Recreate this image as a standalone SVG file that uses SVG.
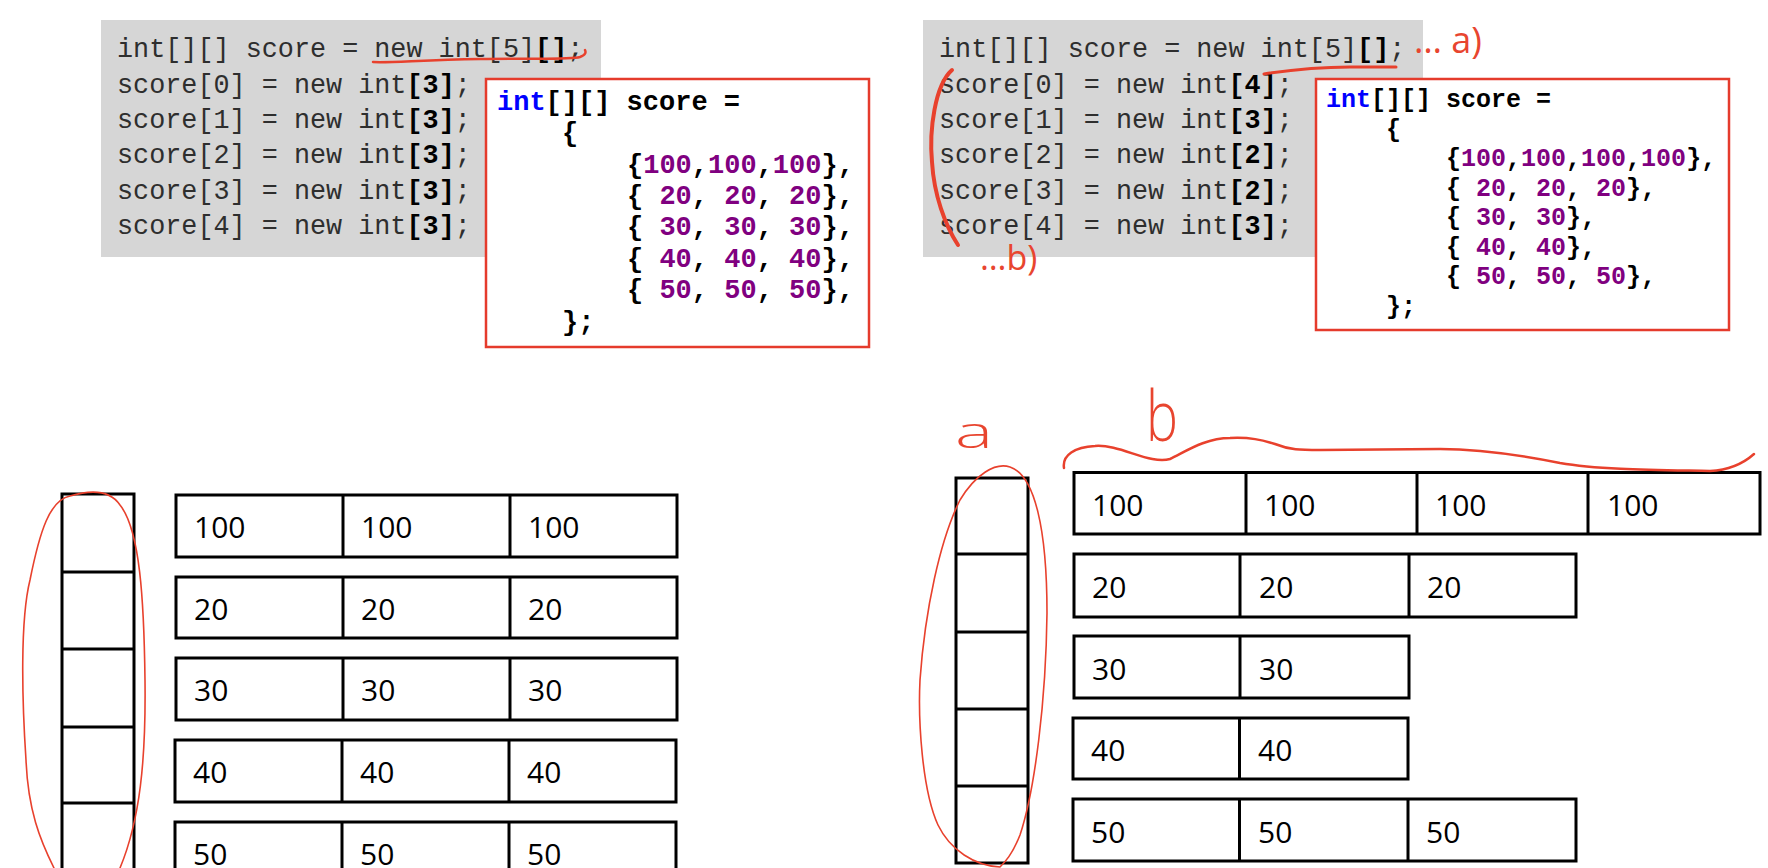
<svg xmlns="http://www.w3.org/2000/svg" width="1768" height="868" viewBox="0 0 1768 868">
<style>
.bg{fill:#ffffff}
.gray{fill:#d6d6d6}
.code{font-family:"Liberation Mono","Courier New",monospace;font-size:26.8px;fill:#2e2e2e}
.b{font-weight:bold;fill:#000}
.box{fill:#ffffff;stroke:#e53b2c;stroke-width:2.5}
.lit{font-family:"Liberation Mono","Courier New",monospace;font-weight:bold;fill:#000}
.l27{font-size:27px}
.l25{font-size:25px}
.kw{fill:#0000ff}
.num{fill:#800080}
.cell{fill:#ffffff;stroke:#000;stroke-width:3}
.div{stroke:#000;stroke-width:3}
.val{font-family:"Open Sans","Liberation Sans",sans-serif;font-size:30px;fill:#000}
.ink{fill:none;stroke:#e8412d;stroke-linecap:round;stroke-linejoin:round}
.note{font-family:"Open Sans","Liberation Sans",sans-serif;fill:#e8452f}
</style>
<rect class="bg" x="0" y="0" width="1768" height="868"/>

<!-- LEFT: code block -->
<g id="code-left">
<rect class="gray" x="101" y="20" width="500" height="237"/>
<text class="code" x="117" y="57" xml:space="preserve">int[][] score = new int[5]<tspan class="b">[]</tspan>;</text>
<text class="code" x="117" y="92.5" xml:space="preserve">score[0] = new int<tspan class="b">[3]</tspan>;</text>
<text class="code" x="117" y="128" xml:space="preserve">score[1] = new int<tspan class="b">[3]</tspan>;</text>
<text class="code" x="117" y="163.3" xml:space="preserve">score[2] = new int<tspan class="b">[3]</tspan>;</text>
<text class="code" x="117" y="198.6" xml:space="preserve">score[3] = new int<tspan class="b">[3]</tspan>;</text>
<text class="code" x="117" y="234" xml:space="preserve">score[4] = new int<tspan class="b">[3]</tspan>;</text>
</g>

<g id="literal-left">
<rect class="box" x="486" y="79" width="383" height="268"/>
<text class="lit l27" x="497" y="109.5" xml:space="preserve"><tspan class="kw">int</tspan>[][] score =</text>
<text class="lit l27" x="562" y="141">{</text>
<text class="lit l27" x="627" y="172.5" xml:space="preserve">{<tspan class="num">100</tspan>,<tspan class="num">100</tspan>,<tspan class="num">100</tspan>},</text>
<text class="lit l27" x="627" y="204" xml:space="preserve">{ <tspan class="num">20</tspan>, <tspan class="num">20</tspan>, <tspan class="num">20</tspan>},</text>
<text class="lit l27" x="627" y="235.3" xml:space="preserve">{ <tspan class="num">30</tspan>, <tspan class="num">30</tspan>, <tspan class="num">30</tspan>},</text>
<text class="lit l27" x="627" y="266.7" xml:space="preserve">{ <tspan class="num">40</tspan>, <tspan class="num">40</tspan>, <tspan class="num">40</tspan>},</text>
<text class="lit l27" x="627" y="298" xml:space="preserve">{ <tspan class="num">50</tspan>, <tspan class="num">50</tspan>, <tspan class="num">50</tspan>},</text>
<text class="lit l27" x="562" y="329.5">};</text>
</g>

<!-- RIGHT: code block -->
<g id="code-right">
<rect class="gray" x="923" y="20" width="500" height="237"/>
<text class="code" x="939" y="57" xml:space="preserve">int[][] score = new int[5]<tspan class="b">[]</tspan>;</text>
<text class="code" x="939" y="92.5" xml:space="preserve">score[0] = new int<tspan class="b">[4]</tspan>;</text>
<text class="code" x="939" y="128" xml:space="preserve">score[1] = new int<tspan class="b">[3]</tspan>;</text>
<text class="code" x="939" y="163.3" xml:space="preserve">score[2] = new int<tspan class="b">[2]</tspan>;</text>
<text class="code" x="939" y="198.6" xml:space="preserve">score[3] = new int<tspan class="b">[2]</tspan>;</text>
<text class="code" x="939" y="234" xml:space="preserve">score[4] = new int<tspan class="b">[3]</tspan>;</text>
</g>

<g id="literal-right">
<rect class="box" x="1316" y="79" width="413" height="251"/>
<text class="lit l25" x="1326" y="107" xml:space="preserve"><tspan class="kw">int</tspan>[][] score =</text>
<text class="lit l25" x="1386" y="136.5">{</text>
<text class="lit l25" x="1446" y="166" xml:space="preserve">{<tspan class="num">100</tspan>,<tspan class="num">100</tspan>,<tspan class="num">100</tspan>,<tspan class="num">100</tspan>},</text>
<text class="lit l25" x="1446" y="195.5" xml:space="preserve">{ <tspan class="num">20</tspan>, <tspan class="num">20</tspan>, <tspan class="num">20</tspan>},</text>
<text class="lit l25" x="1446" y="225" xml:space="preserve">{ <tspan class="num">30</tspan>, <tspan class="num">30</tspan>},</text>
<text class="lit l25" x="1446" y="254.5" xml:space="preserve">{ <tspan class="num">40</tspan>, <tspan class="num">40</tspan>},</text>
<text class="lit l25" x="1446" y="284" xml:space="preserve">{ <tspan class="num">50</tspan>, <tspan class="num">50</tspan>, <tspan class="num">50</tspan>},</text>
<text class="lit l25" x="1386" y="313.5">};</text>
</g>

<!-- LEFT: memory diagram -->
<g id="array-left">
<rect class="cell" x="62" y="494" width="72" height="400"/>
<line class="div" x1="62" y1="572" x2="134" y2="572"/>
<line class="div" x1="62" y1="649" x2="134" y2="649"/>
<line class="div" x1="62" y1="727" x2="134" y2="727"/>
<line class="div" x1="62" y1="803" x2="134" y2="803"/>
</g>
<g id="row-left-0">
<rect class="cell" x="176" y="495" width="501" height="62"/>
<line class="div" x1="343" y1="495" x2="343" y2="557"/><line class="div" x1="510" y1="495" x2="510" y2="557"/>
<text class="val" x="194" y="538">100</text><text class="val" x="361" y="538">100</text><text class="val" x="528" y="538">100</text>
</g>
<g id="row-left-1">
<rect class="cell" x="176" y="577" width="501" height="61"/>
<line class="div" x1="343" y1="577" x2="343" y2="638"/><line class="div" x1="510" y1="577" x2="510" y2="638"/>
<text class="val" x="194" y="620">20</text><text class="val" x="361" y="620">20</text><text class="val" x="528" y="620">20</text>
</g>
<g id="row-left-2">
<rect class="cell" x="176" y="658" width="501" height="62"/>
<line class="div" x1="343" y1="658" x2="343" y2="720"/><line class="div" x1="510" y1="658" x2="510" y2="720"/>
<text class="val" x="194" y="701">30</text><text class="val" x="361" y="701">30</text><text class="val" x="528" y="701">30</text>
</g>
<g id="row-left-3">
<rect class="cell" x="175" y="740" width="501" height="62"/>
<line class="div" x1="342" y1="740" x2="342" y2="802"/><line class="div" x1="509" y1="740" x2="509" y2="802"/>
<text class="val" x="193" y="783">40</text><text class="val" x="360" y="783">40</text><text class="val" x="527" y="783">40</text>
</g>
<g id="row-left-4">
<rect class="cell" x="175" y="822" width="501" height="62"/>
<line class="div" x1="342" y1="822" x2="342" y2="884"/><line class="div" x1="509" y1="822" x2="509" y2="884"/>
<text class="val" x="193" y="865">50</text><text class="val" x="360" y="865">50</text><text class="val" x="527" y="865">50</text>
</g>

<!-- RIGHT: memory diagram -->
<g id="array-right">
<rect class="cell" x="956" y="478" width="72" height="385"/>
<line class="div" x1="956" y1="554" x2="1028" y2="554"/>
<line class="div" x1="956" y1="632" x2="1028" y2="632"/>
<line class="div" x1="956" y1="709" x2="1028" y2="709"/>
<line class="div" x1="956" y1="786" x2="1028" y2="786"/>
</g>
<g id="row-right-0">
<rect class="cell" x="1074" y="472.5" width="686" height="61.5"/>
<line class="div" x1="1246" y1="472.5" x2="1246" y2="534"/><line class="div" x1="1417" y1="472.5" x2="1417" y2="534"/><line class="div" x1="1588" y1="472.5" x2="1588" y2="534"/>
<text class="val" x="1092" y="516">100</text><text class="val" x="1264" y="516">100</text><text class="val" x="1435" y="516">100</text><text class="val" x="1607" y="516">100</text>
</g>
<g id="row-right-1">
<rect class="cell" x="1074" y="554" width="502" height="63"/>
<line class="div" x1="1240" y1="554" x2="1240" y2="617"/><line class="div" x1="1409" y1="554" x2="1409" y2="617"/>
<text class="val" x="1092" y="598">20</text><text class="val" x="1259" y="598">20</text><text class="val" x="1427" y="598">20</text>
</g>
<g id="row-right-2">
<rect class="cell" x="1074" y="636" width="335" height="62"/>
<line class="div" x1="1240" y1="636" x2="1240" y2="698"/>
<text class="val" x="1092" y="680">30</text><text class="val" x="1259" y="680">30</text>
</g>
<g id="row-right-3">
<rect class="cell" x="1073" y="718" width="335" height="61"/>
<line class="div" x1="1239.5" y1="718" x2="1239.5" y2="779"/>
<text class="val" x="1091" y="761">40</text><text class="val" x="1258" y="761">40</text>
</g>
<g id="row-right-4">
<rect class="cell" x="1073" y="799" width="503" height="62"/>
<line class="div" x1="1239.5" y1="799" x2="1239.5" y2="861"/><line class="div" x1="1408" y1="799" x2="1408" y2="861"/>
<text class="val" x="1091" y="843">50</text><text class="val" x="1258" y="843">50</text><text class="val" x="1426" y="843">50</text>
</g>

<!-- red hand annotations -->
<g id="annotations">
<path class="ink" stroke-width="2.5" d="M 373 62 C 390 63, 420 60, 480 59 C 530 58, 570 60, 580 57 C 586 55, 586 52, 585 50"/>
<path class="ink" stroke-width="3" d="M 1264 74 C 1290 70, 1320 67, 1350 67 L 1396 67"/>
<path class="ink" stroke-width="4" d="M 952 70 C 935 85, 929 130, 932 162 C 934 195, 945 225, 958 245"/>
<text class="note" x="1414" y="53" font-size="36" xml:space="preserve">… a)</text>
<text class="note" x="980" y="270" font-size="34">…b)</text>
<path class="ink" stroke-width="1.6" d="M 54 868 C 40 840, 28 810, 26 760 C 22 700, 20 620, 30 580 C 40 530, 50 500, 70 496 C 90 490, 110 490, 120 505 C 140 530, 144 600, 145 680 C 146 760, 140 820, 120 868"/>
<path class="ink" stroke-width="1.6" d="M 1000 867 C 975 866, 950 850, 938 825 C 922 790, 918 720, 920 680 C 925 610, 940 540, 960 500 C 975 475, 995 462, 1010 467 C 1035 475, 1047 530, 1047 613 C 1046 700, 1035 790, 1020 835 C 1012 855, 1005 862, 1000 867"/>
<path class="ink" stroke-width="2.5" d="M 1064 468 C 1062 455, 1075 447, 1095 446 C 1120 444, 1150 465, 1170 459 C 1185 452, 1205 438, 1230 438 C 1250 437, 1262 440, 1275 444 C 1290 450, 1300 450, 1320 450 L 1440 449 C 1480 449, 1520 455, 1560 463 C 1600 470, 1660 470, 1710 471 C 1730 470, 1745 462, 1754 454"/>
<text class="note" x="955" y="448" font-size="44" font-weight="300" textLength="38" lengthAdjust="spacingAndGlyphs">a</text>
<text class="note" x="1146" y="441" font-size="70" font-weight="300" textLength="32" lengthAdjust="spacingAndGlyphs">b</text>
</g>
</svg>
